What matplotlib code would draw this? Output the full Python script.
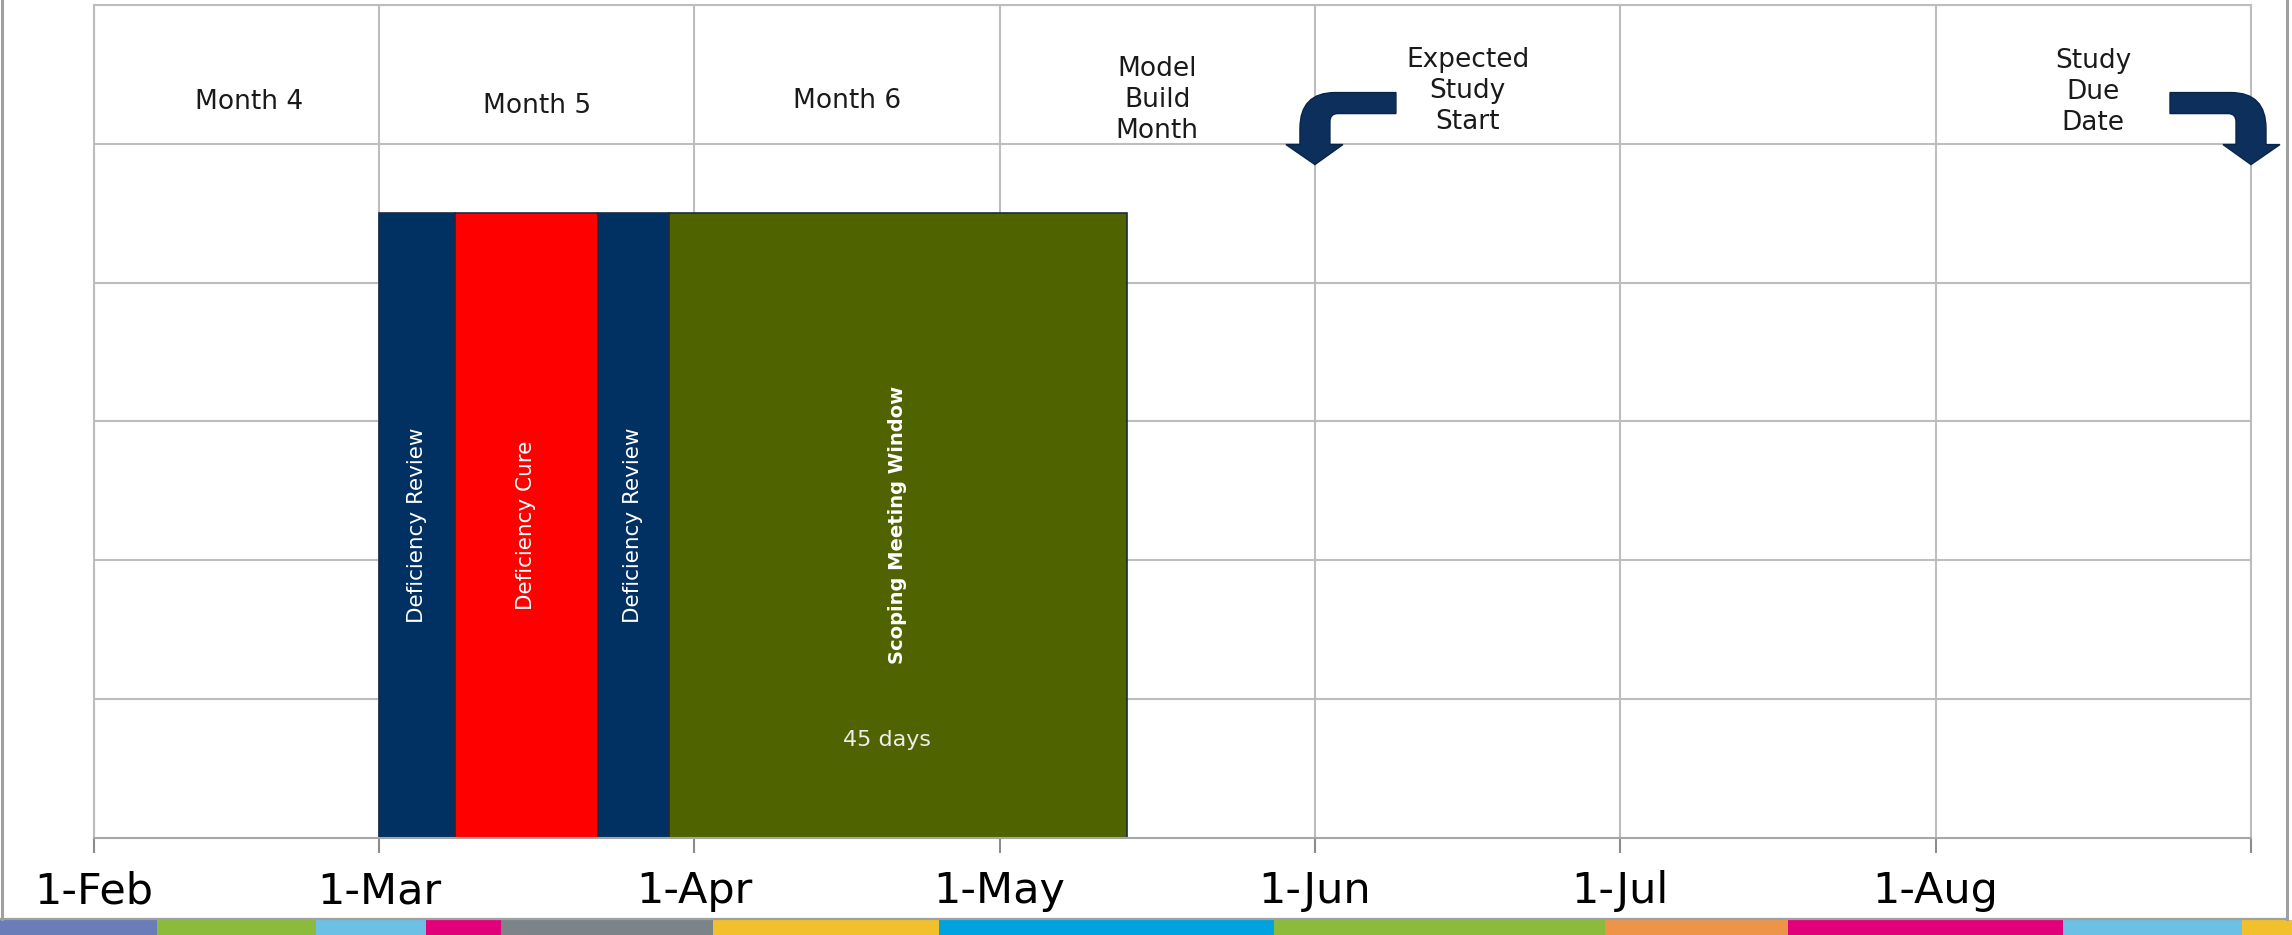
import matplotlib.pyplot as plt
from matplotlib.path import Path
from matplotlib.patches import PathPatch, Rectangle
from matplotlib.lines import Line2D
from matplotlib import transforms

# days counted from 1-Feb
month_starts = [0, 28, 59, 89, 120, 150, 181, 212]
tick_labels = ['1-Feb', '1-Mar', '1-Apr', '1-May', '1-Jun', '1-Jul', '1-Aug', '']

header_labels = ['Month 4', 'Month 5', 'Month 6', 'Model\nBuild\nMonth',
                 'Expected\nStudy\nStart', 'Study\nDue\nDate']
header_month = [0, 1, 2, 3, 4, 6]
header_y = [5.30, 5.27, 5.31, 5.315, 5.38, 5.37]

tasks = ['Deficiency Review', 'Deficiency Cure', 'Deficiency Review', 'Scoping Meeting Window']
task_days = [7.5, 14, 7, 45]
task_colors = ['#003162', '#FF0000', '#003162', '#4F6400']
first_start = 28
bar_top = 4.5

# arrows point at these dates
arrow_days = [120, 212]

W, H = 2292, 935
fig = plt.figure(figsize=(W / 100, H / 100), dpi=100)
ax = fig.add_axes([94 / W, 1 - 837.5 / H, (2251 - 94) / W, (837.5 - 5) / H])

ax.set_xlim(0, 212)
ax.set_ylim(0, 6)

grid_c = '#BDBDBD'
for x in month_starts:
    ax.axvline(x, color=grid_c, lw=1.5, zorder=0)
for y in range(1, 7):
    ax.axhline(y, color=grid_c, lw=1.5, zorder=0)

lefts = [first_start]
for d in task_days[:-1]:
    lefts.append(lefts[-1] + d)

ax.bar(lefts, bar_top, width=task_days, bottom=0, align='edge',
       color=task_colors, edgecolor='#1B2B40', linewidth=1.2, zorder=2)

for i in range(len(tasks)):
    cx = lefts[i] + task_days[i] / 2
    if i == len(tasks) - 1:
        ax.text(cx, bar_top / 2, tasks[i], rotation=90, ha='center', va='center',
                color='white', fontsize=14, fontweight='bold', zorder=3)
        ax.text(cx - 1.1, 0.7, f'{task_days[i]} days', ha='center', va='center',
                color='#EDEDED', fontsize=16, zorder=3)
    else:
        ax.text(cx, bar_top / 2, tasks[i], rotation=90, ha='center', va='center',
                color='white', fontsize=15.5, zorder=3)

for lab, m, hy in zip(header_labels, header_month, header_y):
    cx = (month_starts[m] + month_starts[m + 1]) / 2
    if m == 0:
        cx += 1.2
    ax.text(cx, hy, lab, ha='center', va='center', fontsize=19,
            color='#1a1a1a', linespacing=1.25)

# bent arrows (shape in pixels, relative to the tip)
verts = [(0, 0), (28, 20), (15, 20), (15, 43), (15, 51), (23, 51), (81, 51), (81, 72),
         (20, 72), (-15, 72), (-15, 36), (-15, 20), (-29, 20), (0, 0)]
codes = [Path.MOVETO, Path.LINETO, Path.LINETO, Path.LINETO, Path.CURVE3, Path.CURVE3,
         Path.LINETO, Path.LINETO, Path.LINETO, Path.CURVE3, Path.CURVE3, Path.LINETO,
         Path.LINETO, Path.CLOSEPOLY]
for day, sgn in zip(arrow_days, [1, -1]):
    pth = Path([(sgn * vx, vy) for vx, vy in verts], codes)
    tr = (transforms.Affine2D().scale(1 / fig.dpi) + fig.dpi_scale_trans
          + transforms.ScaledTranslation(day, 4.85, ax.transData))
    ax.add_patch(PathPatch(pth, transform=tr, facecolor='#0D2F5C', edgecolor='#0A2448',
                           lw=1, clip_on=False, zorder=4))

ax.set_xticks(month_starts)
ax.set_xticklabels(tick_labels, fontsize=31, color='black')
ax.set_yticks([])
ax.tick_params(axis='x', length=10.5, width=1.5, color='#8C8C8C', pad=13)
for s in ax.spines.values():
    s.set_color(grid_c)
    s.set_linewidth(1.5)
ax.spines['bottom'].set_color('#A6A6A6')

# outer frame
fc = '#A0A0A0'
fig.add_artist(Line2D([1.5 / W, 1.5 / W], [1 - 919 / H, 1], color=fc, lw=2.2))
fig.add_artist(Line2D([2287 / W, 2287 / W], [1 - 919 / H, 1], color=fc, lw=2.2))
fig.add_artist(Line2D([0, 2287 / W], [1 - 919 / H, 1 - 919 / H], color=fc, lw=1.6))

# coloured strip along the bottom
strip_edges = [0, 157, 316, 426, 501, 713, 939, 1274, 1605, 1788, 2063, 2242, 2292]
strip_colors = ['#6A7DB8', '#8CBB3C', '#6CC0E5', '#E2007A', '#7C8489', '#F3C02D',
                '#00A3E0', '#8CBB3C', '#EE9448', '#E2007A', '#6CC0E5', '#F3C02D']
for i, c in enumerate(strip_colors):
    fig.add_artist(Rectangle((strip_edges[i] / W, 0), (strip_edges[i + 1] - strip_edges[i]) / W,
                             15 / H, transform=fig.transFigure, color=c, lw=0))

fig.savefig('out.png', dpi=100)
